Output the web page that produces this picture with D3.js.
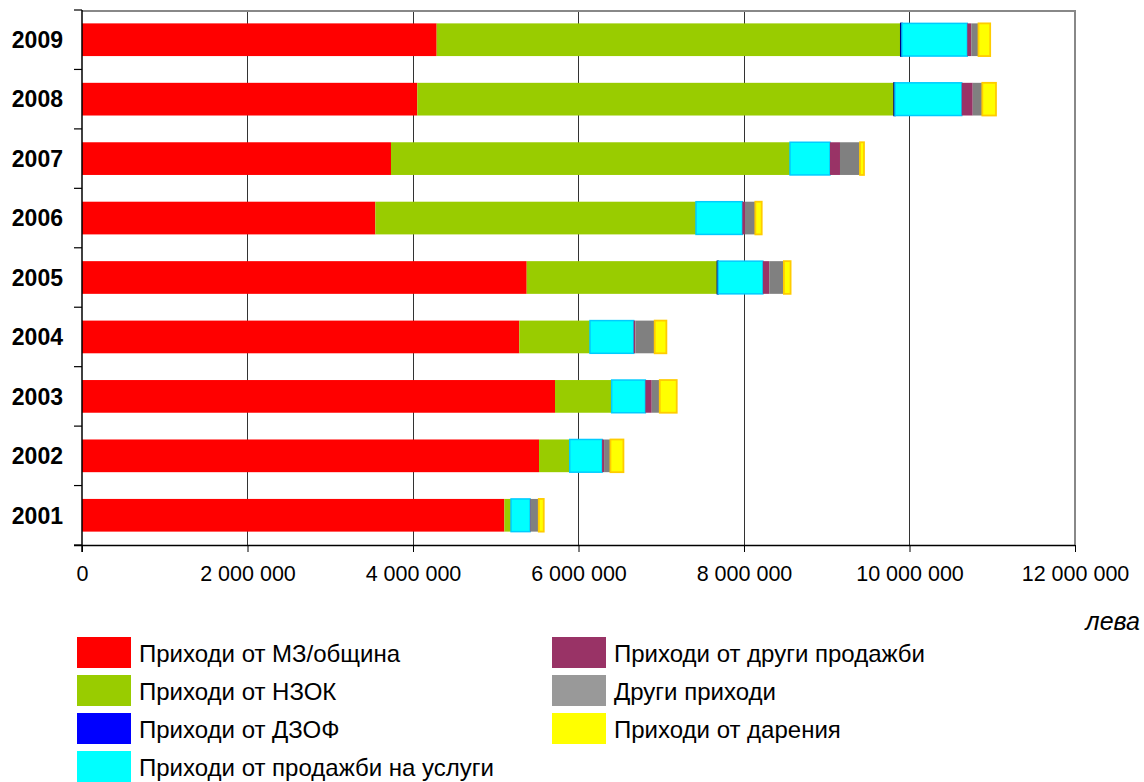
<!DOCTYPE html>
<html><head><meta charset="utf-8">
<script src="https://cdn.jsdelivr.net/npm/d3@7"></script>
<style>body{margin:0;background:#fff;font-family:"Liberation Sans",Arial,sans-serif}</style>
</head><body>
<svg id="c" width="1144" height="782"></svg>
<script>
const years = ["2001","2002","2003","2004","2005","2006","2007","2008","2009"];
const seriesNames = ["Приходи от МЗ/община","Приходи от НЗОК","Приходи от ДЗОФ","Приходи от продажби на услуги","Приходи от други продажби","Други приходи","Приходи от дарения"];
const mzObshtina   = [5104000,5523000,5716000,5285000,5374000,3545000,3734000,4052000,4286000];
const nzok         = [81000,371000,685000,854000,2304000,3875000,4822000,5761000,5608000];
const dzof         = [0,0,0,0,10000,0,0,12000,15000];
const prodUslugi   = [230000,391000,407000,528000,540000,560000,483000,806000,789000];
const drugiProdajbi= [8000,24000,77000,20000,77000,32000,121000,133000,48000];
const drugiPrihodi = [97000,77000,97000,234000,177000,125000,242000,116000,88000];
const darenia      = [60000,157000,205000,141000,81000,77000,48000,165000,141000];
const xTicks = [0,2000000,4000000,6000000,8000000,10000000,12000000];
const unitLabel = "лева";

const colors = ["#ff0000","#99cc00","#0000ff","#00ffff","#993366","#808080","#ffff00"];
const strokes = [null,null,"#000080","#00ccff",null,null,"#ffcc00"];
const legendColors = ["#ff0000","#99cc00","#0000ff","#00ffff","#993366","#999999","#ffff00"];
const seriesData = [mzObshtina,nzok,dzof,prodUslugi,drugiProdajbi,drugiPrihodi,darenia];

const rows = years.map((y,i)=>{const o={year:y}; seriesNames.forEach((s,k)=>o[s]=seriesData[k][i]); return o;});
const stacked = d3.stack().keys(seriesNames)(rows);

const svg = d3.select("#c");
const m = {l:82, t:10, r:1075, b:545};
const x = d3.scaleLinear().domain([0,12000000]).range([m.l,m.r]);
const y = d3.scaleBand().domain(years.slice().reverse()).range([m.t,m.b]).paddingInner(0.45).paddingOuter(0.225);
const yb = d3.scaleBand().domain(years.slice().reverse()).range([m.t,m.b]);

// gridlines
svg.append("g").selectAll("line").data(xTicks.slice(1,-1)).join("line")
  .attr("x1",d=>x(d)).attr("x2",d=>x(d)).attr("y1",m.t).attr("y2",m.b)
  .attr("stroke","#333").attr("stroke-width",1).attr("shape-rendering","crispEdges");

// frame top/right
svg.append("path").attr("d",`M${m.l},${m.t+1}H${m.r}V${m.b}`).attr("fill","none")
  .attr("stroke","#888").attr("stroke-width",2);

// bars
const g = svg.append("g");
stacked.forEach((layer,k)=>{
  g.append("g").selectAll("rect").data(layer).join("rect")
    .attr("x",d=>x(d[0])).attr("width",d=>Math.max(0,x(d[1])-x(d[0])))
    .attr("y",d=>y(d.data.year)).attr("height",y.bandwidth())
    .attr("fill",colors[k])
    .attr("stroke",d=>strokes[k] && d[1]-d[0]>0 ? strokes[k] : null)
    .attr("stroke-width",k===6?1.8:1.5);
});

// axes
const xAxis = d3.axisBottom(x).tickValues(xTicks).tickSize(7).tickPadding(14)
  .tickFormat(d=>d3.format(",")(d).replace(/,/g," "));
const xg = svg.append("g").attr("transform",`translate(0,${m.b})`).call(xAxis);
xg.select(".domain").attr("d",`M${m.l-8},0.5H${m.r}`).attr("stroke","#000").attr("stroke-width",1.5);
xg.selectAll(".tick line").attr("stroke","#000");
xg.selectAll("text").attr("font-size",21.5).attr("font-family","Liberation Sans, Arial, sans-serif").attr("fill","#000");

const yAxis = svg.append("g").attr("transform",`translate(${m.l},0)`);
yAxis.append("line").attr("x1",0).attr("x2",0).attr("y1",m.t).attr("y2",m.b+7).attr("stroke","#000").attr("stroke-width",1.5);
const bounds = years.map(v=>yb(v)).concat([m.b]);
yAxis.selectAll("line.t").data(bounds).join("line").attr("class","t")
  .attr("x1",-8).attr("x2",0).attr("y1",d=>d).attr("y2",d=>d).attr("stroke","#000").attr("stroke-width",1.2);
yAxis.selectAll("text").data(years).join("text")
  .attr("x",-19).attr("y",d=>y(d)+y.bandwidth()/2).attr("dy","0.36em")
  .attr("text-anchor","end").attr("font-weight","bold").attr("font-size",23).text(d=>d);

svg.append("text").attr("x",1140).attr("y",630).attr("text-anchor","end")
  .attr("font-style","italic").attr("font-size",25).text(unitLabel);

// legend
const legCols = [[0,1,2,3],[4,5,6]];
const colX = [77,552];
legCols.forEach((col,ci)=>{
  col.forEach((k,ri)=>{
    const yy = 637 + ri*38;
    svg.append("rect").attr("x",colX[ci]).attr("y",yy).attr("width",54).attr("height",31).attr("fill",legendColors[k]);
    svg.append("text").attr("x",colX[ci]+62).attr("y",yy+16).attr("dy","0.36em")
      .attr("font-size",24).text(seriesNames[k]);
  });
});
</script>
</body></html>
